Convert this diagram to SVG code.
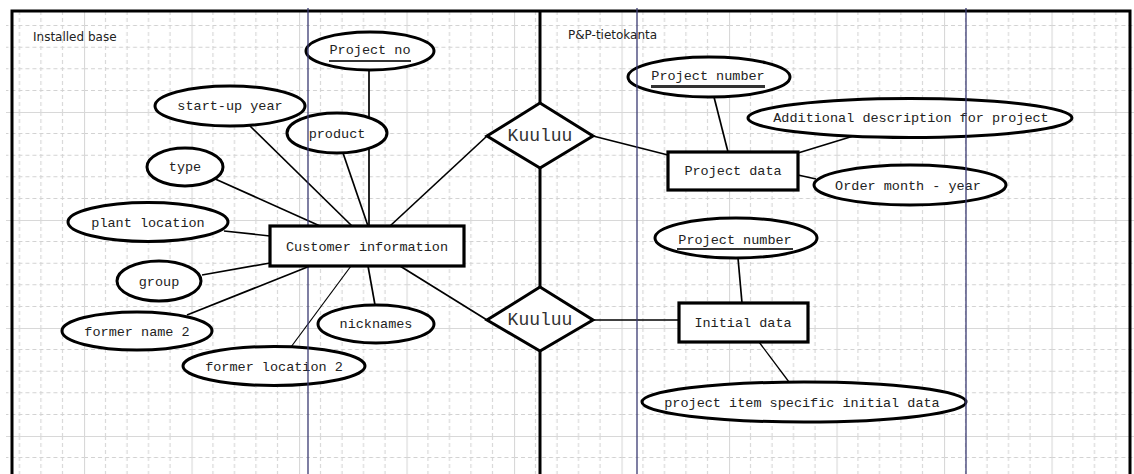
<svg xmlns="http://www.w3.org/2000/svg" width="1134" height="474" viewBox="0 0 1134 474">
<defs>
<pattern id="grid" patternUnits="userSpaceOnUse" x="84" y="4" width="107.5" height="108">
<g stroke="#d2d2d2" stroke-width="1" stroke-dasharray="4 3" fill="none">
<line x1="21.5" y1="0" x2="21.5" y2="108"/>
<line x1="43" y1="0" x2="43" y2="108"/>
<line x1="64.5" y1="0" x2="64.5" y2="108"/>
<line x1="86" y1="0" x2="86" y2="108"/>
<line x1="0" y1="21.6" x2="107.5" y2="21.6"/>
<line x1="0" y1="43.2" x2="107.5" y2="43.2"/>
<line x1="0" y1="64.8" x2="107.5" y2="64.8"/>
<line x1="0" y1="86.4" x2="107.5" y2="86.4"/>
</g>
<g stroke="#d8d8d8" stroke-width="1.2" fill="none">
<line x1="0.5" y1="0" x2="0.5" y2="108"/>
<line x1="0" y1="0.5" x2="107.5" y2="0.5"/>
</g>
</pattern>
<style>
.frame{stroke:#000;stroke-width:3;fill:none}
.guide{stroke:#3a3a72;stroke-width:1.3}
.conn{stroke:#000;stroke-width:1.7;fill:none}
.attr ellipse{fill:#fff;stroke:#000;stroke-width:3}
.ent rect{fill:#fff;stroke:#000;stroke-width:3.2}
.rel polygon{fill:#fff;stroke:#000;stroke-width:3}
.t{font-family:"Liberation Mono","Courier New",monospace;font-size:13.5px;fill:#222;text-anchor:middle;dominant-baseline:central}
.rt{font-family:"Liberation Mono","Courier New",monospace;font-size:18px;fill:#333;text-anchor:middle;dominant-baseline:central}
.lbl{font-family:"DejaVu Sans","Liberation Sans",sans-serif;font-size:12px;fill:#222;dominant-baseline:central}
.ul{stroke:#333;stroke-width:2}
</style>
</defs>
<rect x="0" y="0" width="1134" height="474" fill="#fff"/>
<rect x="6" y="10" width="1128" height="464" fill="url(#grid)"/>
<g id="frame">
<polyline class="frame" points="12,474 12,11 1130,11 1130,474"/>
<line class="frame" x1="540" y1="11" x2="540" y2="103"/>
<line class="frame" x1="540" y1="168" x2="540" y2="287"/>
<line class="frame" x1="540" y1="351" x2="540" y2="474"/>
<text class="lbl" x="33" y="37">Installed base</text>
<text class="lbl" x="568" y="35">P&amp;P-tietokanta</text>
</g>
<g id="connectors">
<line class="conn" x1="369" y1="71" x2="369" y2="226"/>
<line class="conn" x1="250" y1="126" x2="352" y2="226"/>
<line class="conn" x1="343" y1="153" x2="368" y2="226"/>
<line class="conn" x1="213" y1="178" x2="320" y2="226"/>
<line class="conn" x1="224" y1="231" x2="270" y2="236"/>
<line class="conn" x1="202" y1="275" x2="270" y2="263"/>
<line class="conn" x1="187" y1="315" x2="310" y2="266"/>
<line class="conn" x1="291" y1="347" x2="351" y2="266" style="stroke-width:1.2"/>
<line class="conn" x1="368" y1="266" x2="375" y2="305"/>
<line class="conn" x1="487" y1="136" x2="390" y2="226"/>
<line class="conn" x1="400" y1="266" x2="487" y2="320"/>
<line class="conn" x1="593" y1="136" x2="668" y2="155"/>
<line class="conn" x1="714" y1="97" x2="728" y2="152"/>
<line class="conn" x1="860" y1="134" x2="798" y2="153"/>
<line class="conn" x1="798" y1="175" x2="816" y2="179"/>
<line class="conn" x1="593" y1="320" x2="679" y2="320"/>
<line class="conn" x1="738" y1="258" x2="742" y2="303"/>
<line class="conn" x1="759" y1="342" x2="789" y2="382" style="stroke-width:1.3"/>
</g>
<g id="attr-project-no" class="attr"><ellipse cx="370" cy="51" rx="64" ry="19"/><text class="t" x="370" y="50">Project no</text><line class="ul" x1="329" y1="61" x2="411" y2="61"/></g>
<g id="attr-startup-year" class="attr"><ellipse cx="230" cy="106" rx="75" ry="20"/><text class="t" x="230" y="106">start-up year</text></g>
<g id="attr-product" class="attr"><ellipse cx="337" cy="133" rx="50" ry="20"/><text class="t" x="337" y="134">product</text></g>
<g id="attr-type" class="attr"><ellipse cx="185" cy="167" rx="38" ry="19"/><text class="t" x="185" y="167">type</text></g>
<g id="attr-plant-location" class="attr"><ellipse cx="148" cy="222" rx="80" ry="19.5"/><text class="t" x="148" y="223">plant location</text></g>
<g id="attr-group" class="attr"><ellipse cx="159" cy="281" rx="42" ry="20"/><text class="t" x="159" y="282">group</text></g>
<g id="attr-former-name-2" class="attr"><ellipse cx="137" cy="331" rx="75" ry="19"/><text class="t" x="137" y="332">former name 2</text></g>
<g id="attr-former-location-2" class="attr"><ellipse cx="274" cy="366" rx="91" ry="19.5"/><text class="t" x="274" y="367">former location 2</text></g>
<g id="attr-nicknames" class="attr"><ellipse cx="376" cy="324" rx="58" ry="19"/><text class="t" x="376" y="324">nicknames</text></g>
<g id="attr-project-number-1" class="attr"><ellipse cx="709" cy="77" rx="81" ry="20"/><text class="t" x="708" y="76">Project number</text><line class="ul" x1="651" y1="86.5" x2="765" y2="86.5" style="stroke-width:3"/></g>
<g id="attr-additional-description" class="attr"><ellipse cx="910" cy="118" rx="162" ry="19.5"/><text class="t" x="911" y="118">Additional description for project</text></g>
<g id="attr-order-month-year" class="attr"><ellipse cx="910" cy="185" rx="96" ry="20"/><text class="t" x="908" y="186">Order month - year</text></g>
<g id="attr-project-number-2" class="attr"><ellipse cx="736" cy="238" rx="81" ry="20"/><text class="t" x="735" y="240">Project number</text><line class="ul" x1="677" y1="249" x2="793" y2="249" style="stroke-width:2.2"/></g>
<g id="attr-project-item-initial-data" class="attr"><ellipse cx="804" cy="402" rx="162" ry="20"/><text class="t" x="802" y="403">project item specific initial data</text></g>
<g id="guides">
<line class="guide" x1="308" y1="8" x2="308" y2="474"/>
<line class="guide" x1="637" y1="8" x2="637" y2="474"/>
<line class="guide" x1="966" y1="8" x2="966" y2="474"/>
</g>
<g id="ent-customer-information" class="ent"><rect x="270" y="226" width="194" height="40"/><text class="t" x="367" y="247">Customer information</text></g>
<g id="ent-project-data" class="ent"><rect x="668" y="152" width="130" height="38"/><text class="t" x="733" y="171">Project data</text></g>
<g id="ent-initial-data" class="ent"><rect x="679" y="303" width="129" height="39"/><text class="t" x="743" y="323">Initial data</text></g>
<g id="rel-kuuluu-1" class="rel"><polygon points="540,103 593,136 540,168 487,136"/><text class="rt" x="540" y="136">Kuuluu</text></g>
<g id="rel-kuuluu-2" class="rel"><polygon points="540,287 593,320 540,351 487,320"/><text class="rt" x="540" y="320">Kuuluu</text></g>
</svg>
